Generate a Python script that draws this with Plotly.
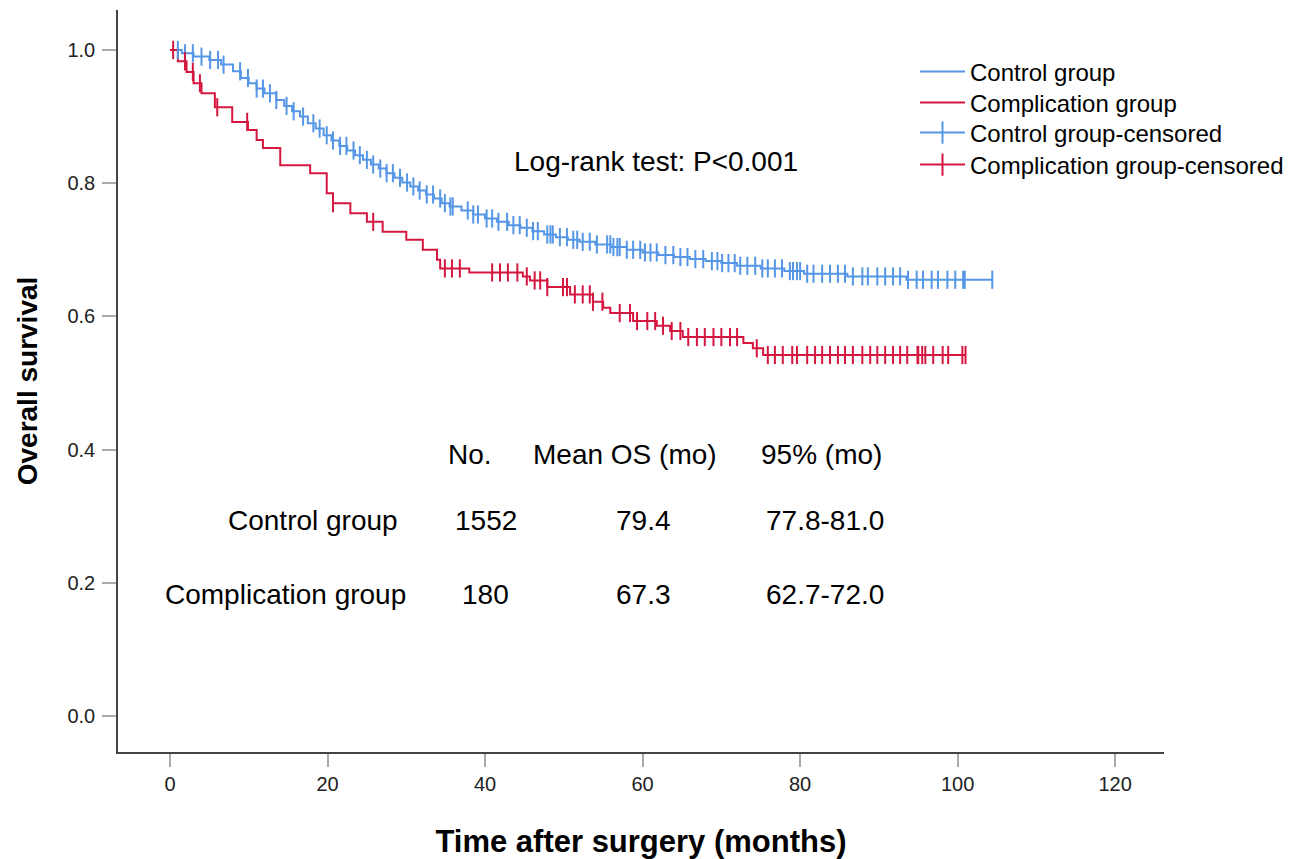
import numpy as np
import plotly.graph_objects as go

# ---------------- data ----------------
ctrl_event_t = [0, 1.5, 3, 5, 6.5, 8, 9, 10, 11, 12, 13.5, 14.5, 15.5, 16.5, 17.5, 18.5, 19.5,
                20.5, 21.5, 22.5, 23.5, 24.5, 25.5, 26.5, 27.5, 28.5, 29.5, 30.5, 31.5, 32.5,
                33.5, 34.5, 35.5, 37, 38.5, 40, 41.5, 43, 44.5, 46, 47.5, 49, 50.5, 52, 54, 56,
                58, 60, 62, 64, 66, 68, 70, 72, 75, 78, 80.5, 86, 93.5]
ctrl_event_s = [1.0, 0.995, 0.99, 0.985, 0.978, 0.968, 0.958, 0.950, 0.942, 0.935, 0.925, 0.916,
                0.908, 0.900, 0.890, 0.882, 0.872, 0.864, 0.856, 0.849, 0.842, 0.835, 0.828,
                0.822, 0.815, 0.808, 0.801, 0.795, 0.789, 0.783, 0.777, 0.770, 0.765, 0.759,
                0.753, 0.747, 0.742, 0.737, 0.733, 0.728, 0.723, 0.719, 0.715, 0.712, 0.708,
                0.704, 0.700, 0.696, 0.692, 0.689, 0.686, 0.683, 0.680, 0.676, 0.672, 0.668,
                0.664, 0.660, 0.655]
ctrl_censor_t = [1.0, 1.9, 2.9, 4.0, 5.1, 6.1, 6.8, 8.9, 9.9, 11.0, 11.8, 12.7, 13.5, 14.8, 15.7,
                 16.9, 18.2, 19.0, 19.9, 20.7, 21.6, 22.4, 23.3, 24.1, 25.0, 25.8, 26.7, 27.5,
                 28.3, 29.2, 30.1, 30.9, 31.7, 32.6, 33.4, 34.3, 34.9, 35.6, 35.9, 37.8, 38.5,
                 39.1, 40.2, 40.9, 41.7, 42.8, 43.6, 44.4, 45.3, 46.1, 46.7, 47.9, 48.3, 48.6,
                 49.5, 50.4, 51.2, 51.7, 52.4, 53.3, 54.2, 55.5, 55.9, 56.3, 56.8, 57.1, 58.0,
                 58.8, 59.7, 60.3, 61.0, 61.8, 62.9, 63.9, 64.8, 65.7, 66.7, 67.7, 68.8, 69.5,
                 70.1, 70.9, 71.7, 72.4, 73.3, 74.3, 75.2, 75.9, 76.8, 77.7, 78.7, 79.1, 79.6,
                 80.0, 80.9, 81.7, 82.8, 83.8, 84.8, 85.7, 86.7, 87.9, 88.6, 89.8, 90.8, 91.8,
                 92.7, 93.7, 94.8, 95.6, 96.7, 97.5, 98.7, 99.7, 100.7, 100.9, 104.4]

comp_event_t = [0, 1.0, 2.1, 3.0, 4.0, 5.7, 7.9, 9.9, 11.0, 11.8, 14.0, 17.8, 19.9, 20.7, 22.9,
                25.0, 27.0, 30.0, 32.1, 33.9, 34.3, 38.0, 44.8, 45.7, 47.9, 50.8, 53.7, 55.0,
                55.9, 58.8, 61.8, 63.5, 65.1, 72.8, 74.0, 75.3]
comp_event_s = [1.0, 0.983, 0.967, 0.950, 0.935, 0.914, 0.892, 0.880, 0.865, 0.853, 0.827, 0.815,
                0.785, 0.770, 0.755, 0.742, 0.727, 0.715, 0.700, 0.685, 0.672, 0.666, 0.660,
                0.654, 0.644, 0.633, 0.622, 0.613, 0.605, 0.593, 0.586, 0.578, 0.569, 0.560,
                0.552, 0.542]
comp_censor_t = [0.4, 1.9, 2.9, 3.8, 6.0, 9.8, 20.7, 25.8, 34.9, 35.8, 36.8, 40.9, 41.9, 42.9,
                 44.1, 45.3, 46.3, 47.0, 47.9, 49.9, 50.4, 51.4, 52.4, 53.3, 53.7, 54.9, 57.1,
                 58.4, 59.3, 60.6, 61.6, 62.6, 63.7, 64.8, 65.8, 66.9, 67.9, 69.0, 70.0, 71.1,
                 72.0, 74.5, 75.9, 76.8, 77.8, 79.0, 79.6, 80.9, 81.9, 82.8, 83.8, 84.8, 85.7,
                 86.7, 87.9, 88.9, 89.8, 90.8, 91.8, 92.7, 93.6, 94.9, 95.0, 95.5, 95.9, 96.9,
                 98.1, 98.8, 100.6, 101.0]

group_names = ["Control group", "Complication group"]
x_ticks = [0, 20, 40, 60, 80, 100, 120]
y_ticks = [0.0, 0.2, 0.4, 0.6, 0.8, 1.0]

table_header = ["No.", "Mean OS (mo)", "95% (mo)"]
table_n = ["1552", "180"]
table_mean = ["79.4", "67.3"]
table_ci = ["77.8-81.0", "62.7-72.0"]
logrank_text = "Log-rank test: P<0.001"

BLUE = "#5596E6"
RED = "#D5173F"
FONT = "Liberation Sans, Arial, sans-serif"

W, H = 1291, 851  # page body adds an 8px margin
ML, MR, MT, MB = 110, 135, 2, 107
PW, PH = W - ML - MR, H - MT - MB


def surv_at(et, es, t):
    idx = np.searchsorted(np.asarray(et), np.asarray(t), side="right") - 1
    return np.asarray(es)[idx]


fig = go.Figure()

groups = [
    (ctrl_event_t, ctrl_event_s, ctrl_censor_t, BLUE),
    (comp_event_t, comp_event_s, comp_censor_t, RED),
]
legend_ids = ["legend", "legend2", "legend3", "legend4"]

# step lines
for i, (name, (et, es, ct, col)) in enumerate(zip(group_names, groups)):
    xs = list(et) + [max(ct)]
    ys = list(es) + [es[-1]]
    fig.add_trace(go.Scatter(x=xs, y=ys, mode="lines", name=name, legend=legend_ids[i],
                             line=dict(color=col, width=2, shape="hv")))

# censor marks
for name, (et, es, ct, col) in zip(group_names, groups):
    fig.add_trace(go.Scatter(x=ct, y=surv_at(et, es, ct), mode="markers", showlegend=False,
                             marker=dict(symbol="line-ns", size=13, color=col,
                                         line=dict(color=col, width=2))))

# legend entries for censored
for i, (name, (et, es, ct, col)) in enumerate(zip(group_names, groups)):
    fig.add_trace(go.Scatter(x=[None], y=[None], mode="lines+markers",
                             name=name + "-censored", legend=legend_ids[2 + i],
                             line=dict(color=col, width=2),
                             marker=dict(symbol="line-ns", size=22, color=col,
                                         line=dict(color=col, width=2))))

AF = dict(size=28, color="black", family=FONT)
annos = []
annos.append(dict(x=61.7, y=0.832, text=logrank_text, showarrow=False, font=AF,
                  xanchor="center", yanchor="middle"))
hdr_x = [38.1, 57.8, 82.7]
for hx, ht in zip(hdr_x, table_header):
    annos.append(dict(x=hx, y=0.392, text=ht, showarrow=False, font=AF,
                      xanchor="center", yanchor="middle"))
row_y = [0.294, 0.183]
row_label_x = [29.2, 30.2]
for i in range(2):
    annos.append(dict(x=row_label_x[i], y=row_y[i], text=group_names[i], showarrow=False, font=AF,
                      xanchor="right", yanchor="middle"))
    for cx, txt in zip([40.1, 60.1, 83.2], [table_n[i], table_mean[i], table_ci[i]]):
        annos.append(dict(x=cx, y=row_y[i], text=txt, showarrow=False, font=AF,
                          xanchor="center", yanchor="middle"))

legend_rows_px = [64, 95, 125, 157]
leg_common = dict(xref="paper", yref="paper", x=(907 - ML) / PW, xanchor="left",
                  yanchor="middle", font=dict(size=24, color="black", family=FONT),
                  bgcolor="rgba(0,0,0,0)", itemwidth=45, borderwidth=0)

layout_legends = {}
for lid, ypx in zip(legend_ids, legend_rows_px):
    layout_legends[lid] = dict(leg_common, y=(H - MB - ypx) / PH)

fig.update_layout(
    width=W, height=H,
    margin=dict(l=ML, r=MR, t=MT, b=MB, autoexpand=False),
    paper_bgcolor="white", plot_bgcolor="white",
    font=dict(family=FONT, color="black"),
    showlegend=True,
    annotations=annos,
    **layout_legends,
)
fig.update_xaxes(range=[-6.6, 126.2], tickvals=x_ticks, ticktext=[str(v) for v in x_ticks],
                 showline=True, linecolor="#444", linewidth=1.5, ticks="outside", ticklen=13,
                 tickcolor="#aaa", tickwidth=2, showgrid=False, zeroline=False,
                 tickfont=dict(size=20, color="#222"), automargin=False,
                 title=dict(text="<b>Time after surgery (months)</b>", font=dict(size=31, color="black"),
                            standoff=40))
fig.update_yaxes(range=[-0.054, 1.06], tickvals=y_ticks, ticktext=[f"{v:.1f}" for v in y_ticks],
                 showline=True, linecolor="#444", linewidth=1.5, ticks="outside", ticklen=14,
                 tickcolor="#aaa", tickwidth=2, showgrid=False, zeroline=False,
                 tickfont=dict(size=20, color="#222"), ticklabelstandoff=3, automargin=False,
                 title=dict(text="<b>Overall survival</b>", font=dict(size=28, color="black"),
                            standoff=22))

fig.write_html("out.html")
